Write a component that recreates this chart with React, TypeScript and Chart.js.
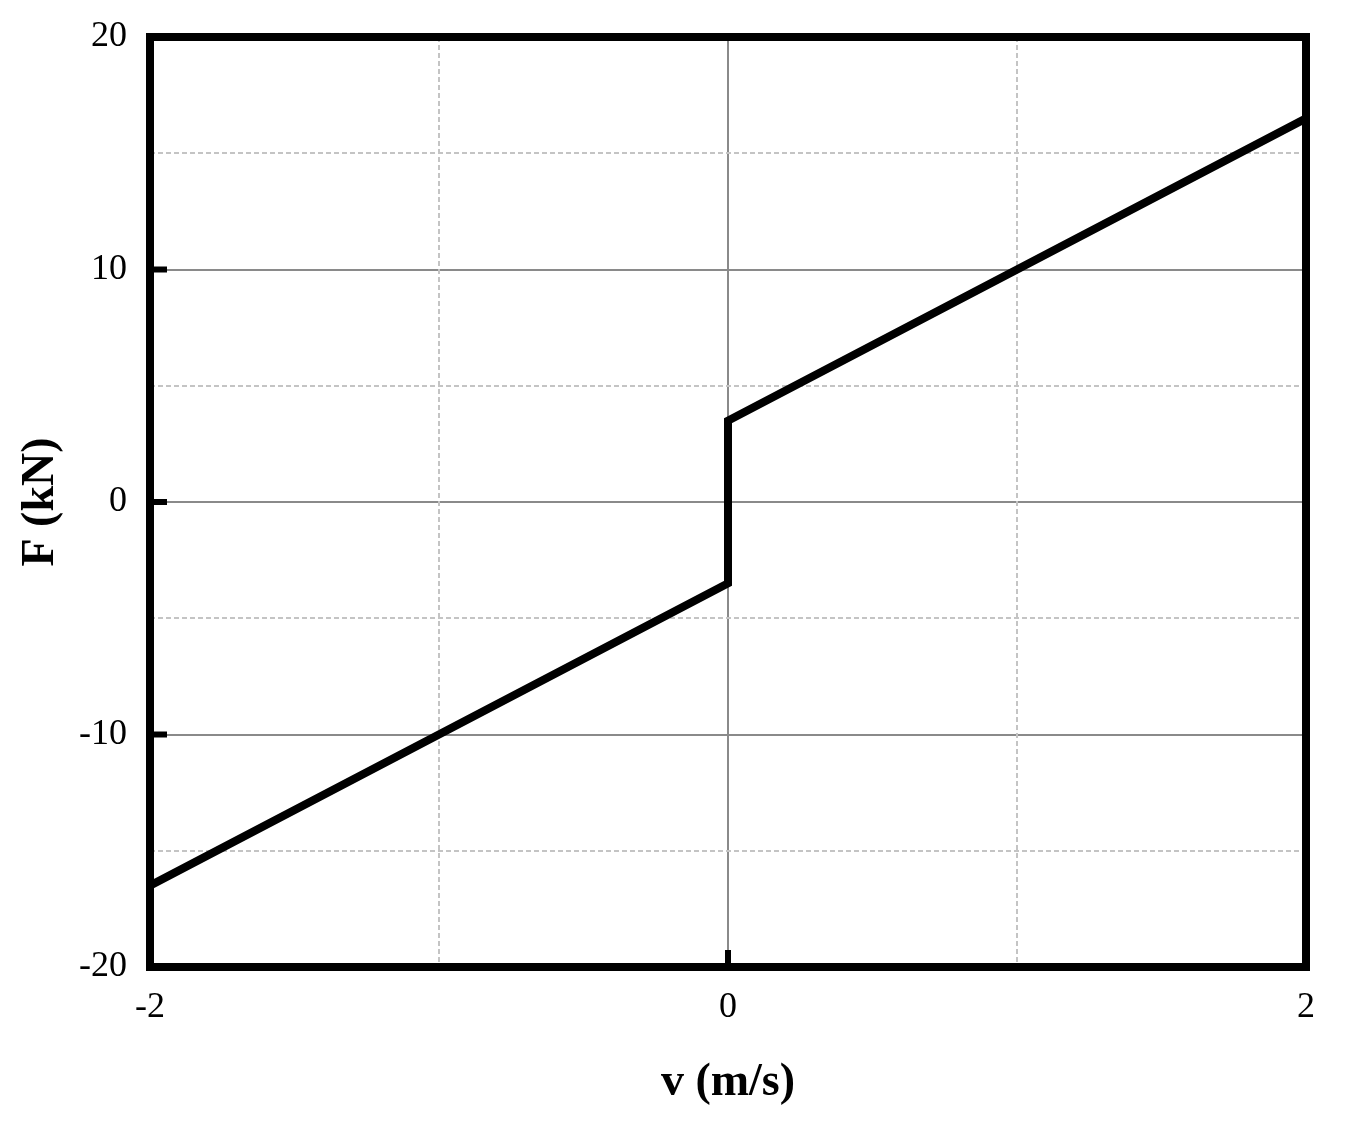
import React, { useEffect, useRef } from "react";
import { Chart, registerables } from "chart.js";

Chart.register(...registerables);

// Data: F (kN) versus v (m/s)
const velocity = [-2, 0, 0, 2];
const force = [-16.5, -3.5, 3.5, 16.5];

// Axis ranges / tick positions
const xRange = [-2, 2];
const yRange = [-20, 20];
const xMajorStep = 2;
const yMajorStep = 10;
const xMinorTicks = [-1, 1];
const yMinorTicks = [-15, -5, 5, 15];
const xInwardTicks = [0];
const yInwardTicks = [-10, 0, 10];

const FONT = "'Liberation Serif', 'Times New Roman', Times, serif";

const framePlugin = {
  id: "framePlugin",
  beforeDatasetsDraw(chart: any) {
    const { ctx, chartArea, scales } = chart;
    const { left, right, top, bottom } = chartArea;
    ctx.save();
    ctx.strokeStyle = "#c4c4c4";
    ctx.lineWidth = 2;
    ctx.setLineDash([5, 3]);
    for (const v of yMinorTicks) {
      const y = Math.round(scales.y.getPixelForValue(v));
      ctx.beginPath();
      ctx.moveTo(left, y);
      ctx.lineTo(right, y);
      ctx.stroke();
    }
    for (const v of xMinorTicks) {
      const x = Math.round(scales.x.getPixelForValue(v));
      ctx.beginPath();
      ctx.moveTo(x, top);
      ctx.lineTo(x, bottom);
      ctx.stroke();
    }
    ctx.restore();
  },
  afterDatasetsDraw(chart: any) {
    const { ctx, chartArea, scales } = chart;
    const { left, right, top, bottom } = chartArea;
    ctx.save();
    ctx.strokeStyle = "#000";
    ctx.lineWidth = 8;
    ctx.setLineDash([]);
    ctx.strokeRect(left, top, right - left, bottom - top);
    ctx.lineWidth = 6;
    for (const v of yInwardTicks) {
      const y = scales.y.getPixelForValue(v);
      ctx.beginPath();
      ctx.moveTo(left, y);
      ctx.lineTo(left + 17, y);
      ctx.stroke();
    }
    for (const v of xInwardTicks) {
      const x = scales.x.getPixelForValue(v);
      ctx.beginPath();
      ctx.moveTo(x, bottom);
      ctx.lineTo(x, bottom - 17);
      ctx.stroke();
    }
    ctx.restore();
  },
};

export default function App() {
  const canvasRef = useRef<HTMLCanvasElement | null>(null);

  useEffect(() => {
    if (!canvasRef.current) return;
    const chart = new Chart(canvasRef.current, {
      type: "line",
      data: {
        datasets: [
          {
            data: velocity.map((v, i) => ({ x: v, y: force[i] })),
            borderColor: "#000",
            borderWidth: 8,
            pointRadius: 0,
            fill: false,
            tension: 0,
            borderJoinStyle: "miter",
          },
        ],
      },
      options: {
        animation: false,
        responsive: false,
        maintainAspectRatio: false,
        layout: { padding: { left: 0, top: 37, right: 51, bottom: 0 } },
        plugins: {
          legend: { display: false },
          tooltip: { enabled: false },
        },
        scales: {
          x: {
            type: "linear",
            min: xRange[0],
            max: xRange[1],
            afterFit: (s: any) => {
              s.height = 176;
              s.paddingLeft = 0;
              s.paddingRight = 0;
            },
            ticks: {
              stepSize: xMajorStep,
              autoSkip: false,
              maxRotation: 0,
              padding: 19,
              color: "#000",
              font: { family: FONT, size: 36 },
            },
            grid: { color: "#8a8a8a", lineWidth: 2, drawTicks: false },
            border: { display: false },
            title: {
              display: true,
              text: "v (m/s)",
              color: "#000",
              font: { family: FONT, size: 46, weight: "bold" },
              padding: { top: 0, bottom: 32 },
            },
          },
          y: {
            type: "linear",
            min: yRange[0],
            max: yRange[1],
            afterFit: (s: any) => {
              s.width = 150;
              s.paddingTop = 0;
              s.paddingBottom = 0;
            },
            ticks: {
              stepSize: yMajorStep,
              autoSkip: false,
              padding: 23,
              color: "#000",
              font: { family: FONT, size: 36 },
            },
            grid: { color: "#8a8a8a", lineWidth: 2, drawTicks: false },
            border: { display: false },
            title: {
              display: true,
              text: "F (kN)",
              color: "#000",
              font: { family: FONT, size: 46, weight: "bold" },
              padding: { top: 14, bottom: 0 },
            },
          },
        },
      },
      plugins: [framePlugin],
    } as any);
    return () => chart.destroy();
  }, []);

  return (
    <div style={{ position: "absolute", left: 0, top: 0, width: 1357, height: 1143, background: "#fff" }}>
      <canvas ref={canvasRef} width={1357} height={1143} style={{ width: 1357, height: 1143, display: "block" }} />
    </div>
  );
}
